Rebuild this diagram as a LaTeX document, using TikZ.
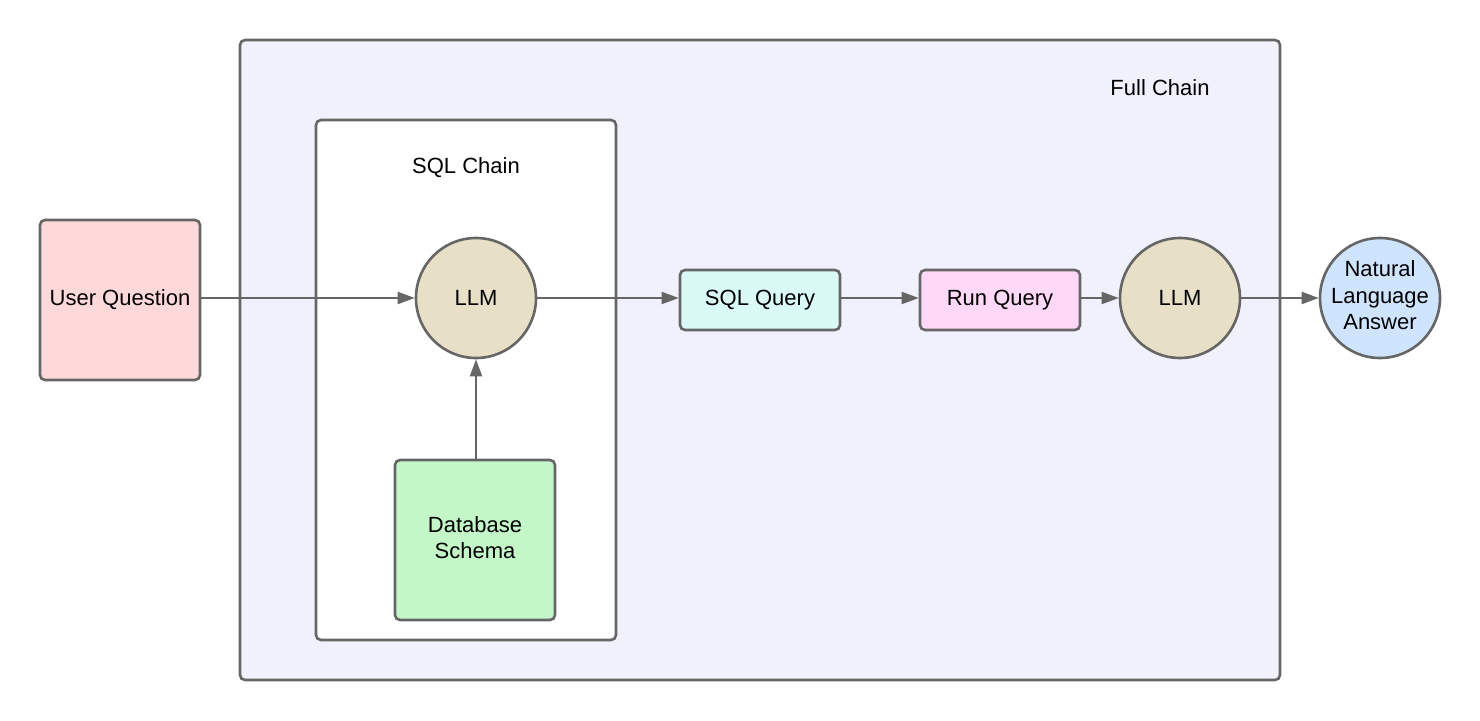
\documentclass[tikz,border=0pt]{standalone}
\usepackage{fontspec}
\setmainfont{Liberation Sans}
\usetikzlibrary{arrows.meta}
\definecolor{edge}{HTML}{666666}
\definecolor{fullfill}{HTML}{F1F1FD}
\definecolor{userfill}{HTML}{FFD9D9}
\definecolor{llmfill}{HTML}{E8E0C6}
\definecolor{dbfill}{HTML}{C3F7C8}
\definecolor{sqlfill}{HTML}{D9FAF5}
\definecolor{runfill}{HTML}{FFD7F7}
\definecolor{ansfill}{HTML}{CFE4FF}
\tikzset{
  txt/.style={font=\fontsize{22}{26.5}\selectfont, text=black, align=center},
  boxnode/.style={txt, draw=edge, line width=2.6pt, rounded corners=5pt, inner sep=0pt},
  circnode/.style={txt, draw=edge, line width=2.6pt, circle, inner sep=0pt, minimum size=120pt},
  container/.style={draw=edge, line width=2.6pt, rounded corners=5pt},
  conn/.style={draw=edge, line width=2pt, -{Triangle[length=17pt,width=12pt]}},
}
\begin{document}
\begin{tikzpicture}[x=1pt,y=-1pt]
\useasboundingbox (0,0) rectangle (1480,720);
% containers
\draw[container, fill=fullfill] (240,40) rectangle (1280,680);
\node[txt] (fulllbl) at (1160,88) {Full Chain};
\draw[container, fill=white] (316,120) rectangle (616,640);
\node[txt] (sqllbl) at (466,168) {SQL Chain};
% nodes
\node[boxnode, fill=userfill, minimum width=160pt, minimum height=160pt] (user) at (120,300) {User Question};
\node[circnode, fill=llmfill] (llm1) at (476,298) {LLM};
\node[boxnode, fill=dbfill, minimum width=160pt, minimum height=160pt] (db) at (475,540) {\raisebox{4pt}{\begin{tabular}{@{}c@{}}Database\\Schema\end{tabular}}};
\node[boxnode, fill=sqlfill, minimum width=160pt, minimum height=60pt] (sqlq) at (760,300) {SQL Query};
\node[boxnode, fill=runfill, minimum width=160pt, minimum height=60pt] (runq) at (1000,300) {Run Query};
\node[circnode, fill=llmfill] (llm2) at (1180,298) {LLM};
\node[circnode, fill=ansfill] (ans) at (1380,298) {\makebox[0pt]{\raisebox{2pt}{\begin{tabular}{@{}c@{}}Natural\\Language\\Answer\end{tabular}}}};
% connectors
\draw[conn] (user.east |- llm1.west) -- (llm1.west);
\draw[conn] (db.north -| llm1.south) -- (llm1.south);
\draw[conn] (llm1.east) -- (sqlq.west |- llm1.east);
\draw[conn] (sqlq.east |- llm1.east) -- (runq.west |- llm1.east);
\draw[conn] (runq.east |- llm2.west) -- (llm2.west);
\draw[conn] (llm2.east) -- (ans.west);
\end{tikzpicture}
\end{document}
